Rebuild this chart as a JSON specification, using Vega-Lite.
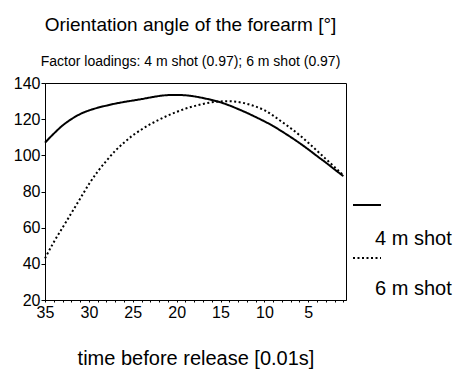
{
  "$schema": "https://vega.github.io/schema/vega-lite/v6.json",
  "width": 301,
  "height": 217,
  "autosize": {"type": "none"},
  "padding": {"left": 45, "top": 83, "right": 113, "bottom": 74},
  "background": "white",
  "title": {
    "text": "Orientation angle of the forearm [°]",
    "subtitle": "Factor loadings: 4 m shot (0.97); 6 m shot (0.97)",
    "anchor": "middle",
    "dx": -5,
    "offset": 6,
    "font": "Liberation Sans",
    "fontSize": 19,
    "fontWeight": "normal",
    "color": "black",
    "subtitleFont": "Liberation Sans Narrow, Liberation Sans",
    "subtitleFontSize": 14,
    "subtitleColor": "black",
    "subtitlePadding": 20
  },
  "config": {
    "view": {"stroke": "black", "strokeWidth": 1},
    "axis": {"domainColor": "black", "tickColor": "black", "labelColor": "black", "titleColor": "black", "labelFont": "Liberation Sans", "titleFont": "Liberation Sans", "grid": false}
  },
  "data": {
    "values": [
      {"t": 35, "series": "4 m shot", "angle": 107},
      {"t": 34, "series": "4 m shot", "angle": 112},
      {"t": 33, "series": "4 m shot", "angle": 116.5},
      {"t": 32, "series": "4 m shot", "angle": 120},
      {"t": 31, "series": "4 m shot", "angle": 122.8},
      {"t": 30, "series": "4 m shot", "angle": 124.8},
      {"t": 29, "series": "4 m shot", "angle": 126.3},
      {"t": 28, "series": "4 m shot", "angle": 127.5},
      {"t": 27, "series": "4 m shot", "angle": 128.6},
      {"t": 26, "series": "4 m shot", "angle": 129.5},
      {"t": 25, "series": "4 m shot", "angle": 130.3},
      {"t": 24, "series": "4 m shot", "angle": 131.1},
      {"t": 23, "series": "4 m shot", "angle": 132},
      {"t": 22, "series": "4 m shot", "angle": 132.8},
      {"t": 21, "series": "4 m shot", "angle": 133.3},
      {"t": 20, "series": "4 m shot", "angle": 133.4},
      {"t": 19, "series": "4 m shot", "angle": 133.2},
      {"t": 18, "series": "4 m shot", "angle": 132.6},
      {"t": 17, "series": "4 m shot", "angle": 131.7},
      {"t": 16, "series": "4 m shot", "angle": 130.6},
      {"t": 15, "series": "4 m shot", "angle": 129.3},
      {"t": 14, "series": "4 m shot", "angle": 127.6},
      {"t": 13, "series": "4 m shot", "angle": 125.6},
      {"t": 12, "series": "4 m shot", "angle": 123.5},
      {"t": 11, "series": "4 m shot", "angle": 121.2},
      {"t": 10, "series": "4 m shot", "angle": 118.8},
      {"t": 9, "series": "4 m shot", "angle": 116.2},
      {"t": 8, "series": "4 m shot", "angle": 113.2},
      {"t": 7, "series": "4 m shot", "angle": 110.1},
      {"t": 6, "series": "4 m shot", "angle": 106.8},
      {"t": 5, "series": "4 m shot", "angle": 103.3},
      {"t": 4, "series": "4 m shot", "angle": 99.6},
      {"t": 3, "series": "4 m shot", "angle": 96},
      {"t": 2, "series": "4 m shot", "angle": 92.2},
      {"t": 1, "series": "4 m shot", "angle": 88.5},
      {"t": 35, "series": "6 m shot", "angle": 43},
      {"t": 34, "series": "6 m shot", "angle": 52},
      {"t": 33, "series": "6 m shot", "angle": 60},
      {"t": 32, "series": "6 m shot", "angle": 68},
      {"t": 31, "series": "6 m shot", "angle": 76},
      {"t": 30, "series": "6 m shot", "angle": 84},
      {"t": 29, "series": "6 m shot", "angle": 91},
      {"t": 28, "series": "6 m shot", "angle": 97},
      {"t": 27, "series": "6 m shot", "angle": 102.5},
      {"t": 26, "series": "6 m shot", "angle": 107},
      {"t": 25, "series": "6 m shot", "angle": 111},
      {"t": 24, "series": "6 m shot", "angle": 114.3},
      {"t": 23, "series": "6 m shot", "angle": 117.2},
      {"t": 22, "series": "6 m shot", "angle": 119.7},
      {"t": 21, "series": "6 m shot", "angle": 122},
      {"t": 20, "series": "6 m shot", "angle": 124},
      {"t": 19, "series": "6 m shot", "angle": 125.8},
      {"t": 18, "series": "6 m shot", "angle": 127.2},
      {"t": 17, "series": "6 m shot", "angle": 128.4},
      {"t": 16, "series": "6 m shot", "angle": 129.3},
      {"t": 15, "series": "6 m shot", "angle": 129.8},
      {"t": 14, "series": "6 m shot", "angle": 129.9},
      {"t": 13, "series": "6 m shot", "angle": 129.5},
      {"t": 12, "series": "6 m shot", "angle": 128.5},
      {"t": 11, "series": "6 m shot", "angle": 127},
      {"t": 10, "series": "6 m shot", "angle": 125},
      {"t": 9, "series": "6 m shot", "angle": 122},
      {"t": 8, "series": "6 m shot", "angle": 118.5},
      {"t": 7, "series": "6 m shot", "angle": 115},
      {"t": 6, "series": "6 m shot", "angle": 111.2},
      {"t": 5, "series": "6 m shot", "angle": 107},
      {"t": 4, "series": "6 m shot", "angle": 102.5},
      {"t": 3, "series": "6 m shot", "angle": 98},
      {"t": 2, "series": "6 m shot", "angle": 93.5},
      {"t": 1, "series": "6 m shot", "angle": 89}
    ]
  },
  "mark": {"type": "line", "color": "black", "interpolate": "monotone"},
  "encoding": {
    "x": {
      "field": "t",
      "type": "quantitative",
      "scale": {"domain": [35, 0.7], "nice": false, "zero": false},
      "axis": {
        "title": "time before release [0.01s]",
        "titleFontSize": 20,
        "titleFontWeight": "normal",
        "titlePadding": 28,
        "values": [35,34,33,32,31,30,29,28,27,26,25,24,23,22,21,20,19,18,17,16,15,14,13,12,11,10,9,8,7,6,5,4,3,2,1],
        "labelExpr": "datum.value % 5 === 0 ? datum.label : ''",
        "labelFontSize": 16,
        "labelFlush": false,
        "tickSize": 2,
        "labelPadding": 2,
        "labelOverlap": false
      }
    },
    "y": {
      "field": "angle",
      "type": "quantitative",
      "scale": {"domain": [20, 140], "nice": false, "zero": false},
      "axis": {
        "title": null,
        "values": [20, 40, 60, 80, 100, 120, 140],
        "labelFontSize": 16,
        "tickSize": 4,
        "labelPadding": 1
      }
    },
    "strokeDash": {
      "field": "series",
      "type": "nominal",
      "scale": {"domain": ["4 m shot", "6 m shot"], "range": [[1, 0], [2, 2.5]]},
      "legend": {
        "title": null,
        "orient": "none",
        "legendX": 307,
        "legendY": 107,
        "symbolType": "stroke",
        "symbolSize": 784,
        "symbolStrokeWidth": 2,
        "symbolStrokeColor": "black",
        "labelExpr": "''",
        "labelFontSize": 1,
        "rowPadding": 34
      }
    },
    "strokeWidth": {
      "field": "series",
      "type": "nominal",
      "scale": {"domain": ["4 m shot", "6 m shot", "other"], "range": [2, 2, 2]},
      "legend": {
        "title": null,
        "orient": "none",
        "legendX": 307,
        "legendY": 141,
        "values": ["4 m shot", "6 m shot"],
        "symbolType": "stroke",
        "symbolSize": 784,
        "symbolOpacity": 0,
        "symbolStrokeColor": "white",
        "labelFont": "Liberation Sans",
        "labelFontSize": 20,
        "labelColor": "black",
        "labelOffset": -7,
        "labelLimit": 200,
        "rowPadding": 25
      }
    }
  }
}
